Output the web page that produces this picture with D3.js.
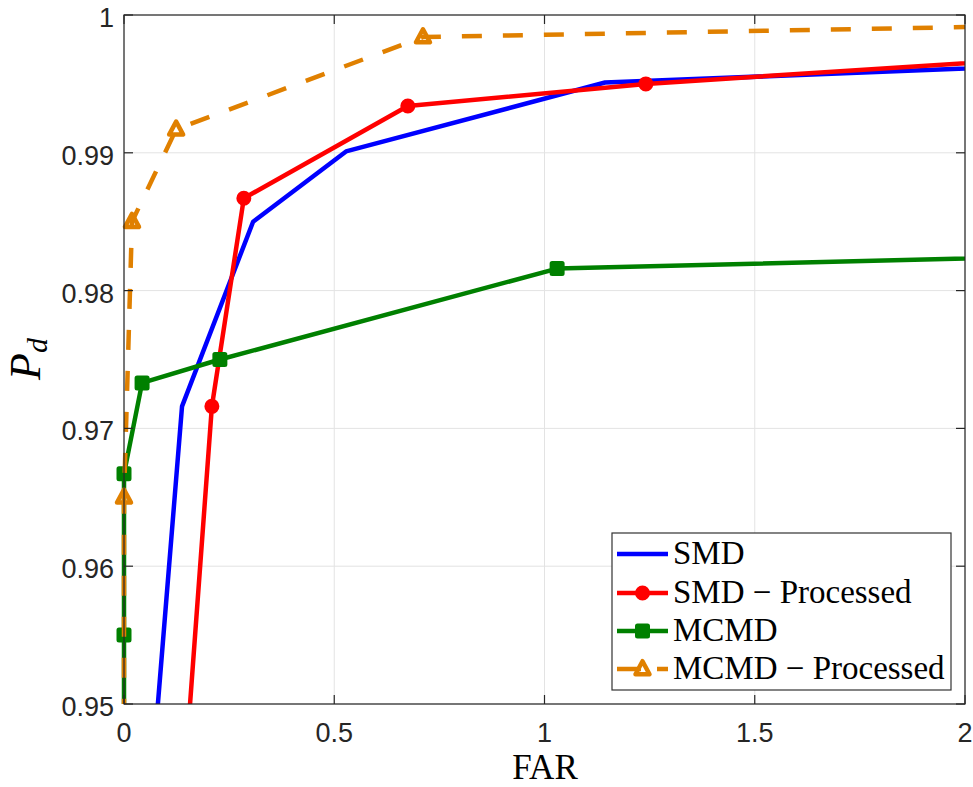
<!DOCTYPE html>
<html>
<head>
<meta charset="utf-8">
<script src="https://cdn.jsdelivr.net/npm/d3@7"></script>
<style>
  body { margin: 0; background: #fff; }
  svg { display: block; }
</style>
</head>
<body>
<svg id="chart" width="973" height="787"></svg>
<script>
// ---- data ----
const xTicks = [0, 0.5, 1, 1.5, 2];
const xTickLabels = ["0", "0.5", "1", "1.5", "2"];
const yTicks = [0.95, 0.96, 0.97, 0.98, 0.99, 1];
const yTickLabels = ["0.95", "0.96", "0.97", "0.98", "0.99", "1"];

const smdFAR = [0.054, 0.138, 0.307, 0.528, 1.144, 2.5];
const smdPd  = [0.940, 0.9716, 0.9850, 0.9901, 0.9951, 0.9967];

const smdProcFAR = [0.133, 0.209, 0.285, 0.675, 1.241, 2.5];
const smdProcPd  = [0.940, 0.9716, 0.9867, 0.9934, 0.9950, 0.9975];

const mcmdFAR = [0, 0, 0, 0.043, 0.228, 1.030, 2.5];
const mcmdPd  = [0.940, 0.9550, 0.9667, 0.9733, 0.9750, 0.9816, 0.9827];

const mcmdProcFAR = [0, 0, 0.019, 0.124, 0.711, 2.5];
const mcmdProcPd  = [0.940, 0.9650, 0.9850, 0.9917, 0.9984, 0.9994];

const seriesNames = ["SMD", "SMD \u2212 Processed", "MCMD", "MCMD \u2212 Processed"];

// ---- layout ----
const svg = d3.select("#chart");
const L = 124, R = 965, T = 15, B = 704;
const x = d3.scaleLinear().domain([0, 2]).range([L, R]);
const y = d3.scaleLinear().domain([0.95, 1]).range([B, T]);

const series = [
  { name: seriesNames[0], xs: smdFAR, ys: smdPd, color: "#0000ff", marker: null, dash: null },
  { name: seriesNames[1], xs: smdProcFAR, ys: smdProcPd, color: "#ff0000", marker: "circle", dash: null },
  { name: seriesNames[2], xs: mcmdFAR, ys: mcmdPd, color: "#008000", marker: "square", dash: null },
  { name: seriesNames[3], xs: mcmdProcFAR, ys: mcmdProcPd, color: "#e08000", marker: "triangle", dash: "20,21" }
];

// clip (a little slack on the left so lines on x = 0 keep full width)
svg.append("defs").append("clipPath").attr("id", "plotclip")
  .append("rect").attr("x", L - 4).attr("y", T).attr("width", R - L + 4).attr("height", B - T);

// grid
const grid = svg.append("g");
xTicks.forEach(t => {
  grid.append("line").attr("x1", x(t)).attr("x2", x(t)).attr("y1", T).attr("y2", B)
    .attr("stroke", "#e3e3e3").attr("stroke-width", 1);
});
yTicks.forEach(t => {
  grid.append("line").attr("x1", L).attr("x2", R).attr("y1", y(t)).attr("y2", y(t))
    .attr("stroke", "#e3e3e3").attr("stroke-width", 1);
});

const lineGen = d3.line().x(d => x(d[0])).y(d => y(d[1]));

function drawMarker(g, type, cx, cy, color) {
  if (type === "circle") {
    g.append("circle").attr("cx", cx).attr("cy", cy).attr("r", 6.5)
      .attr("fill", color).attr("stroke", color).attr("stroke-width", 2);
  } else if (type === "square") {
    g.append("rect").attr("x", cx - 6.5).attr("y", cy - 6.5).attr("width", 13).attr("height", 13)
      .attr("rx", 1.5)
      .attr("fill", color).attr("stroke", color).attr("stroke-width", 2);
  } else if (type === "triangle") {
    const h = 13, w = 14;
    g.append("path")
      .attr("d", `M${cx},${cy - h * 0.6} L${cx + w / 2},${cy + h * 0.4} L${cx - w / 2},${cy + h * 0.4} Z`)
      .attr("fill", "none").attr("stroke", color).attr("stroke-width", 4.5)
      .attr("stroke-linejoin", "round");
  }
}

series.forEach(s => {
  const pts = s.xs.map((v, i) => [v, s.ys[i]]);
  const grp = svg.append("g");
  const p = grp.append("path").datum(pts).attr("d", lineGen)
    .attr("clip-path", "url(#plotclip)")
    .attr("fill", "none").attr("stroke", s.color).attr("stroke-width", 4.5)
    .attr("stroke-linejoin", "round");
  if (s.dash) p.attr("stroke-dasharray", s.dash);
  if (s.marker) {
    pts.filter(d => d[0] >= 0 && d[0] <= 2 && d[1] >= 0.95 && d[1] <= 1)
      .forEach(d => drawMarker(grp, s.marker, x(d[0]), y(d[1]), s.color));
  }
});

// axes box
const axisColor = "#262626";
svg.append("rect").attr("x", L).attr("y", T).attr("width", R - L).attr("height", B - T)
  .attr("fill", "none").attr("stroke", axisColor).attr("stroke-width", 1.2);

// ticks (inward) + labels
const tickLen = 9;
const tickFont = "'Liberation Sans', Arial, sans-serif";
xTicks.forEach((t, i) => {
  svg.append("line").attr("x1", x(t)).attr("x2", x(t)).attr("y1", B).attr("y2", B - tickLen)
    .attr("stroke", axisColor).attr("stroke-width", 1.2);
  svg.append("line").attr("x1", x(t)).attr("x2", x(t)).attr("y1", T).attr("y2", T + tickLen)
    .attr("stroke", axisColor).attr("stroke-width", 1.2);
  svg.append("text").attr("x", x(t)).attr("y", 742)
    .attr("text-anchor", "middle").attr("font-family", tickFont).attr("font-size", 27)
    .attr("fill", "#262626").text(xTickLabels[i]);
});
yTicks.forEach((t, i) => {
  svg.append("line").attr("x1", L).attr("x2", L + tickLen).attr("y1", y(t)).attr("y2", y(t))
    .attr("stroke", axisColor).attr("stroke-width", 1.2);
  svg.append("line").attr("x1", R).attr("x2", R - tickLen).attr("y1", y(t)).attr("y2", y(t))
    .attr("stroke", axisColor).attr("stroke-width", 1.2);
  svg.append("text").attr("x", 114).attr("y", y(t) + 12)
    .attr("text-anchor", "end").attr("font-family", tickFont).attr("font-size", 27)
    .attr("fill", "#262626").text(yTickLabels[i]);
});

// axis labels
const serif = "'Liberation Serif', 'Times New Roman', serif";
svg.append("text").attr("x", 545).attr("y", 779).attr("text-anchor", "middle")
  .attr("font-family", serif).attr("font-size", 35).attr("fill", "#000").text("FAR");

const yl = svg.append("text").attr("transform", "translate(40,380) rotate(-90)")
  .attr("font-family", serif).attr("font-style", "italic").attr("fill", "#000");
yl.append("tspan").attr("font-size", 44).text("P");
yl.append("tspan").attr("font-size", 30).attr("dy", 7).text("d");

// legend
const lg = svg.append("g");
lg.append("rect").attr("x", 612).attr("y", 533).attr("width", 339).attr("height", 157)
  .attr("fill", "#fff").attr("stroke", "#333").attr("stroke-width", 1.2);
const rowY = [554, 593, 631, 669];
series.forEach((s, i) => {
  const yy = rowY[i];
  const ln = lg.append("line").attr("x1", 617).attr("x2", 668).attr("y1", yy).attr("y2", yy)
    .attr("stroke", s.color).attr("stroke-width", 4.5);
  if (s.dash) ln.attr("stroke-dasharray", "24,16");
  if (s.marker) drawMarker(lg, s.marker, 642.5, yy, s.color);
  lg.append("text").attr("x", 673).attr("y", yy + 10)
    .attr("font-family", serif).attr("font-size", 33).attr("fill", "#000").text(s.name);
});
</script>
</body>
</html>
